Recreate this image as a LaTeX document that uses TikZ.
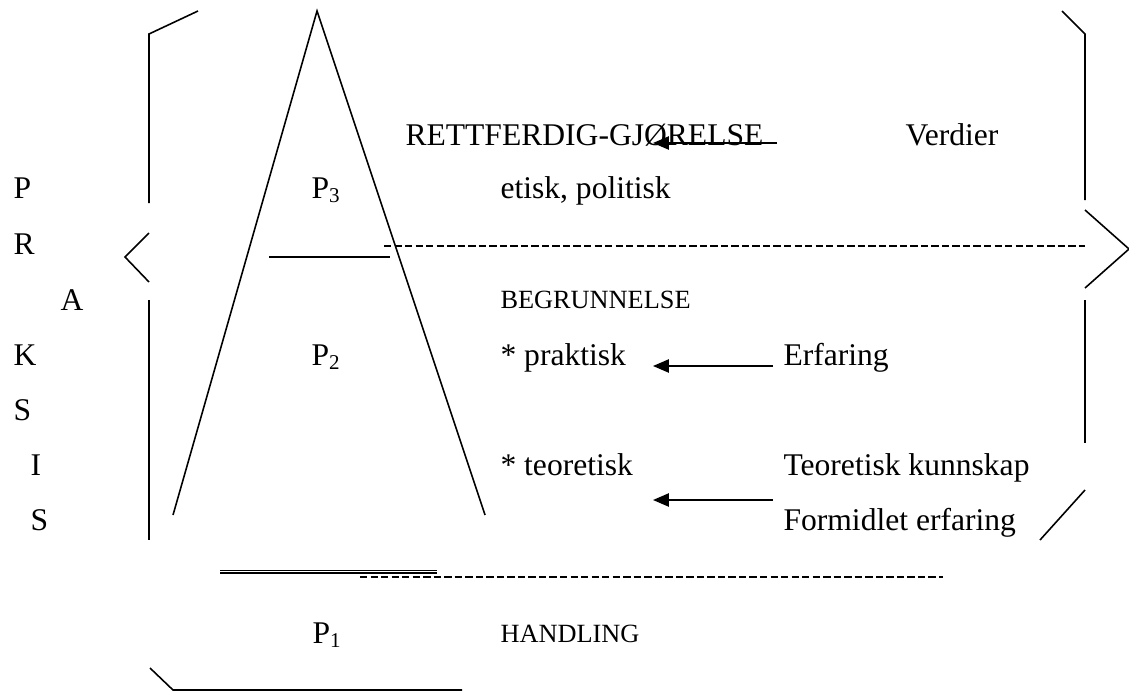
\documentclass[tikz,border=0pt]{standalone}
\usepackage{fontspec}
\setmainfont{Liberation Serif}
\usetikzlibrary{arrows.meta}
\begin{document}
\begin{tikzpicture}[x=0.38pt,y=-0.38pt,
  ln/.style={line width=0.6pt},
  dl/.style={line width=0.6pt,dash pattern=on 2.8pt off 1.2pt},
  txt/.style={inner sep=0pt,anchor=base west,font=\fontsize{12pt}{14pt}\selectfont},
  sc/.style={inner sep=0pt,anchor=base west,font=\fontsize{10pt}{12pt}\selectfont},
  arr/.style={line width=0.6pt,-{Triangle[length=6pt,width=5pt]}}]
\useasboundingbox (0,0) rectangle (1129,693);
% left letters
\node[txt] (l1) at (13,198) {P};
\node[txt] (l2) at (13,254) {R};
\node[txt] (l3) at (60,310) {A};
\node[txt] (l4) at (13,365) {K};
\node[txt] (l5) at (13,420) {S};
\node[txt] (l6) at (30,475) {I};
\node[txt] (l7) at (30,530) {S};
% left bracket
\draw[ln] (198,11) -- (149,34) -- (149,203);
\draw[ln] (149,233) -- (125,257) -- (149,282);
\draw[ln] (149,300) -- (149,540);
\draw[ln] (150,668) -- (173,690) -- (462,690);
% right bracket
\draw[ln] (1062,11) -- (1085,34) -- (1085,200);
\draw[ln] (1085,210) -- (1129,249) -- (1085,288);
\draw[ln] (1085,300) -- (1085,443);
\draw[ln] (1085,490) -- (1040,540);
% triangle
\draw[ln] (173,515) -- (317,11) -- (485,515);
% horizontal lines
\draw[ln] (269,257) -- (390,257);
\draw[dl] (384,246) -- (1085,246);
\draw[ln] (220,570.5) -- (437,570.5);
\draw[ln] (220,573) -- (437,573);
\draw[dl] (360,577) -- (943,577);
% texts
\node[txt] (rett) at (405,145) {RETTFERDIG-GJØRELSE};
\node[txt] (verd) at (905,145) {Verdier};
\node[txt] (p3) at (311,198) {P\textsubscript{3}};
\node[txt] (etisk) at (500,198) {etisk, politisk};
\node[sc] (begr) at (500,308) {BEGRUNNELSE};
\node[txt] (p2) at (311,365) {P\textsubscript{2}};
\node[txt] (prak) at (500,365) {* praktisk};
\node[txt] (erf) at (783,365) {Erfaring};
\node[txt] (teo) at (500,475) {* teoretisk};
\node[txt] (teok) at (783,475) {Teoretisk kunnskap};
\node[txt] (form) at (783,530) {Formidlet erfaring};
\node[txt] (p1) at (312,643) {P\textsubscript{1}};
\node[sc] (hand) at (500,642) {HANDLING};
% arrows
\coordinate (a1s) at (777,143);
\coordinate (a1e) at (653,143);
\coordinate (a2s) at (773,366);
\coordinate (a2e) at (653,366);
\coordinate (a3s) at (773,500);
\coordinate (a3e) at (653,500);
\draw[arr] (a1s) -- (a1e);
\draw[arr] (a2s) -- (a2e);
\draw[arr] (a3s) -- (a3e);
\end{tikzpicture}
\end{document}
